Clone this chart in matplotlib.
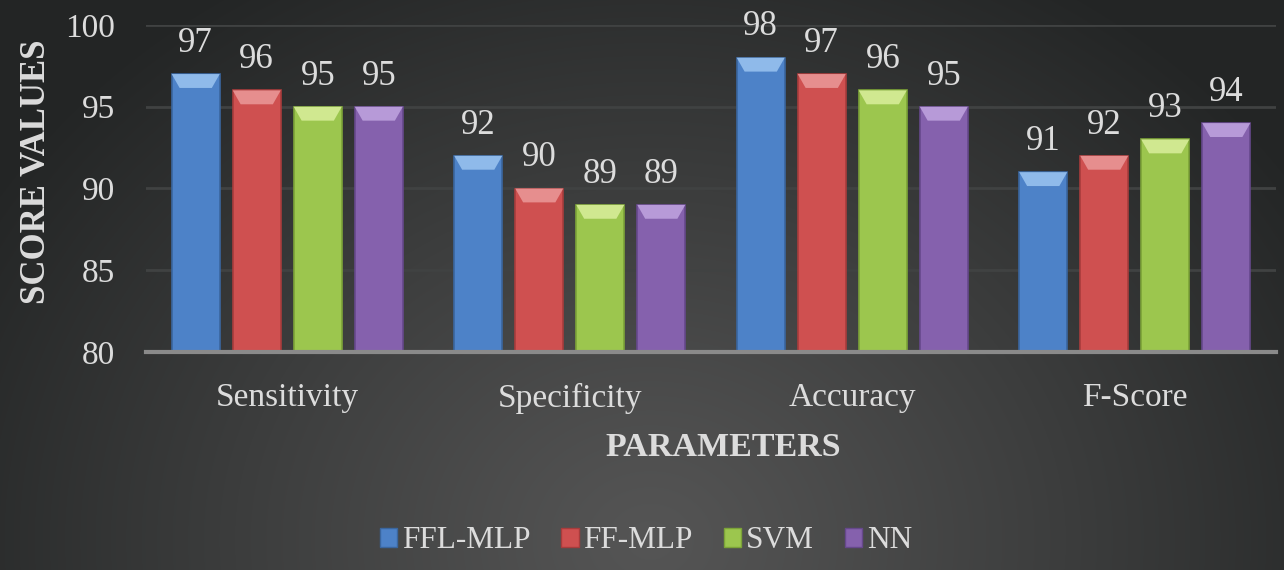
import numpy as np
import matplotlib
matplotlib.use("Agg")
import matplotlib.pyplot as plt
from matplotlib.patches import Polygon, Patch

categories = ["Sensitivity", "Specificity", "Accuracy", "F-Score"]
series_names = ["FFL-MLP", "FF-MLP", "SVM", "NN"]
ffl_mlp = [97, 92, 98, 91]
ff_mlp = [96, 90, 97, 92]
svm = [95, 89, 96, 93]
nn = [95, 89, 95, 94]
yticks = [80, 85, 90, 95, 100]

series = [ffl_mlp, ff_mlp, svm, nn]
colors = ["#4d82c8", "#cf5050", "#9cc64e", "#8561ad"]
light = ["#8fbaea", "#e68e8e", "#d0e890", "#b79ad8"]
dark = ["#3a669f", "#a83c3c", "#7ca338", "#66488c"]

plt.rcParams['font.family'] = ['Liberation Serif', 'DejaVu Serif']
txt = "#dcdcdc"

W, H = 1284, 570
fig = plt.figure(figsize=(W / 100, H / 100), dpi=100)

# background radial gradient
bg = fig.add_axes([0, 0, 1, 1], zorder=-10)
yy, xx = np.mgrid[0:H, 0:W]
d = np.sqrt(((xx - 650) / 1.0) ** 2 + ((yy - 540) / 0.85) ** 2)
t = np.clip(d / 780.0, 0, 1) ** 1.1
c0 = np.array([0x55, 0x55, 0x55]) / 255.0
c1 = np.array([0x23, 0x25, 0x25]) / 255.0
img = c0[None, None, :] * (1 - t[..., None]) + c1[None, None, :] * t[..., None]
bg.imshow(img, aspect='auto', extent=[0, 1, 0, 1])
bg.axis('off')

ax = fig.add_axes([146 / W, 1 - 352 / H, 1130 / W, 327 / H])
ax.patch.set_alpha(0)

x = np.arange(len(categories))
step = 0.216
width = 0.17
offsets = (np.arange(len(series)) - 1.5) * step

for i, vals in enumerate(series):
    pos = x + offsets[i]
    bars = ax.bar(pos, np.array(vals) - 80, width, bottom=80, color=colors[i],
                  zorder=3, edgecolor=dark[i], linewidth=1.2)
    for b, v in zip(bars, vals):
        x0 = b.get_x()
        x1 = x0 + b.get_width()
        dx = 0.028
        dy = 0.85
        bev = Polygon([[x0, v], [x1, v], [x1 - dx, v - dy], [x0 + dx, v - dy]],
                      closed=True, facecolor=light[i], edgecolor='none', zorder=4)
        ax.add_patch(bev)
        ax.annotate(f"{v}", (b.get_x() + b.get_width() / 2, v), xytext=(0, 16),
                    textcoords='offset points', ha='center', va='baseline',
                    fontsize=25, color=txt)

ax.set_xlim(-0.5, 3.5)
ax.set_ylim(80, 100)
ax.set_yticks(yticks)
ax.set_xticks(x)
ax.set_xticklabels(categories)
ax.tick_params(axis='both', length=0, labelsize=24, labelcolor=txt)
ax.tick_params(axis='y', pad=22)
ax.tick_params(axis='x', pad=22)
ax.grid(axis='y', color='#404242', linewidth=2, zorder=0)
for s in ['top', 'right', 'left']:
    ax.spines[s].set_visible(False)
ax.spines['bottom'].set_color('#8a8a8a')
ax.spines['bottom'].set_linewidth(3)
ax.spines['bottom'].set_zorder(5)

ax.set_xlabel("PARAMETERS", fontsize=24.5, fontweight='bold', color=txt, labelpad=14)
ax.xaxis.set_label_coords(0.511, -0.245)
ax.set_ylabel("SCORE VALUES", fontsize=25, fontweight='bold', color=txt)
ax.yaxis.set_label_coords(-0.082, 0.55)

handles = [Patch(facecolor=colors[i], edgecolor=dark[i], label=series_names[i])
           for i in range(len(series))]
leg = fig.legend(handles=handles, loc='center', bbox_to_anchor=(0.503, 1 - 541 / H),
                 ncol=4, frameon=False, fontsize=22.5, handlelength=0.55,
                 handleheight=0.55, handletextpad=0.15, columnspacing=1.0)
for tx in leg.get_texts():
    tx.set_color(txt)

fig.savefig("out.png", dpi=100)
